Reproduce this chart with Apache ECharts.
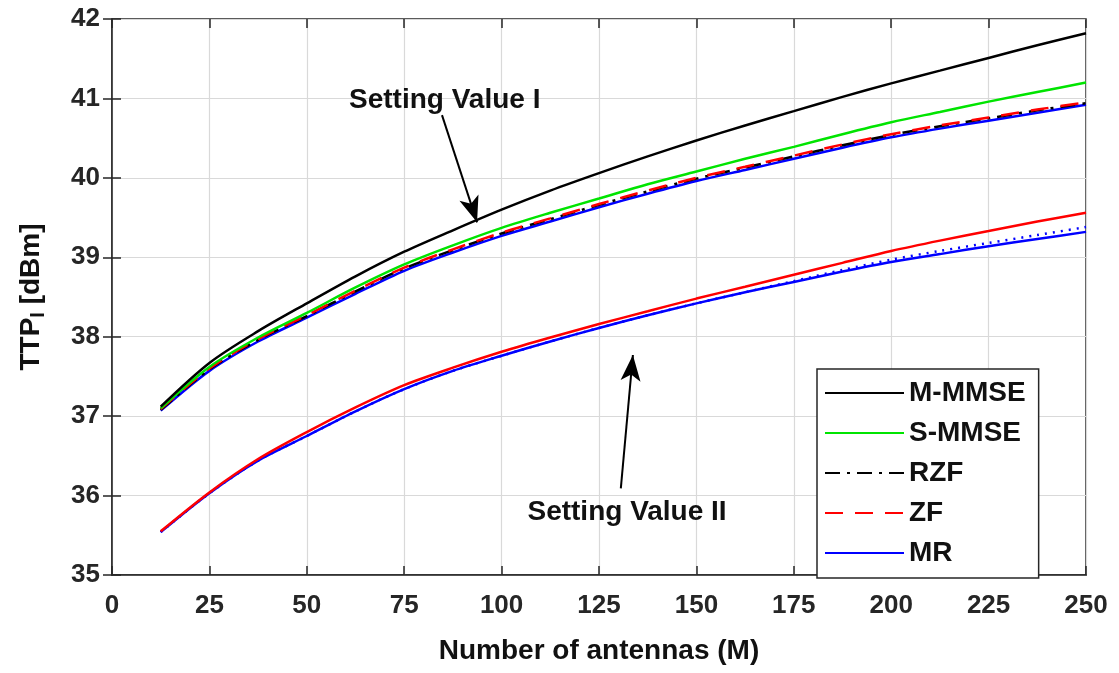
<!DOCTYPE html>
<html>
<head>
<meta charset="utf-8">
<script src="https://cdn.jsdelivr.net/npm/echarts@6/dist/echarts.min.js"></script>
<style>
  html, body { margin: 0; padding: 0; background: #fff; }
  #main { width: 1119px; height: 673px; }
</style>
</head>
<body>
<div id="main"></div>
<script>
// number of antennas M
const antennas = [12.5, 25, 37.5, 50, 62.5, 75, 87.5, 100, 112.5, 125, 137.5, 150, 162.5, 175, 187.5, 200, 212.5, 225, 237.5, 250];

// Setting Value I
const mmmseI = [37.12, 37.67, 38.07, 38.42, 38.76, 39.07, 39.34, 39.60, 39.84, 40.06, 40.27, 40.47, 40.66, 40.84, 41.02, 41.19, 41.35, 41.51, 41.67, 41.82];
const smmseI = [37.10, 37.62, 37.99, 38.30, 38.62, 38.91, 39.15, 39.37, 39.56, 39.74, 39.92, 40.08, 40.24, 40.39, 40.55, 40.70, 40.83, 40.96, 41.08, 41.20];
const rzfI   = [37.08, 37.59, 37.96, 38.26, 38.57, 38.86, 39.09, 39.30, 39.48, 39.66, 39.83, 39.99, 40.13, 40.27, 40.41, 40.54, 40.65, 40.75, 40.85, 40.94];
const zfI    = [37.09, 37.60, 37.97, 38.27, 38.58, 38.87, 39.10, 39.31, 39.49, 39.67, 39.84, 40.00, 40.14, 40.28, 40.42, 40.55, 40.66, 40.76, 40.86, 40.95];
const mrI    = [37.07, 37.57, 37.94, 38.24, 38.54, 38.83, 39.06, 39.27, 39.45, 39.63, 39.80, 39.96, 40.10, 40.24, 40.38, 40.51, 40.62, 40.72, 40.82, 40.92];

// Setting Value II
const zfII     = [35.55, 36.04, 36.46, 36.80, 37.11, 37.39, 37.61, 37.81, 37.99, 38.16, 38.32, 38.48, 38.63, 38.78, 38.93, 39.08, 39.21, 39.33, 39.45, 39.56];
const rzfII    = [35.54, 36.03, 36.44, 36.75, 37.06, 37.34, 37.57, 37.76, 37.94, 38.11, 38.27, 38.42, 38.56, 38.70, 38.84, 38.97, 39.08, 39.18, 39.28, 39.38];
const mrII     = [35.54, 36.03, 36.44, 36.75, 37.06, 37.34, 37.57, 37.76, 37.94, 38.11, 38.27, 38.42, 38.56, 38.69, 38.82, 38.94, 39.04, 39.14, 39.23, 39.32];

const legendNames = ["M-MMSE", "S-MMSE", "RZF", "ZF", "MR"];

const FONT = "'Liberation Sans', Arial, sans-serif";
const AXIS_COLOR = "#262626";

const pairs = (ys) => antennas.map((m, i) => [m, ys[i]]);

const lineSeries = (name, ys, color, type, z) => ({
  name: name,
  type: "line",
  data: pairs(ys),
  symbol: "none",
  smooth: 0.3,
  z: z,
  lineStyle: { color: color, width: 2.5, type: type },
  itemStyle: { color: color },
  emphasis: { disabled: true }
});

const textStyle = { fontFamily: FONT, fontWeight: "bold", fontSize: 28, color: "#111" };

const myChart = echarts.init(document.getElementById("main"));

// arrows + captions, placed in data coordinates
const annotations = {
  type: "line",
  data: [],
  silent: true,
  z: 20,
  markLine: {
    silent: true,
    symbol: ["none", "arrow"],
    symbolSize: [15, 26],
    label: { show: false },
    lineStyle: { color: "#000", width: 2, type: "solid" },
    data: [
      [{ coord: [84.7, 40.79] }, { coord: [93.7, 39.44] }],
      [{ coord: [130.6, 36.09] }, { coord: [133.7, 37.77] }]
    ]
  },
  markPoint: {
    silent: true,
    symbol: "circle",
    symbolSize: 1,
    itemStyle: { color: "rgba(0,0,0,0)" },
    label: Object.assign({ show: true, position: "inside" }, textStyle),
    data: [
      { coord: [85.4, 40.98], label: { formatter: "Setting Value I" } },
      { coord: [132.2, 35.79], label: { formatter: "Setting Value II" } }
    ]
  }
};

myChart.setOption({
  animation: false,
  backgroundColor: "#fff",
  textStyle: { fontFamily: FONT },
  grid: {
    left: 112, right: 33, top: 19, bottom: 98,
    show: true, borderColor: AXIS_COLOR, borderWidth: 1.5, backgroundColor: "#fff"
  },
  legend: {
    data: legendNames,
    orient: "vertical",
    left: 817,
    top: 369,
    padding: [10, 13, 11, 7],
    itemGap: 12,
    itemWidth: 79,
    itemHeight: 14,
    itemStyle: { opacity: 0, borderWidth: 0 },
    backgroundColor: "#fff",
    borderColor: AXIS_COLOR,
    borderWidth: 1.5,
    selectedMode: false,
    textStyle: { fontFamily: FONT, fontWeight: "bold", fontSize: 28, color: "#111", lineHeight: 28 }
  },
  xAxis: [
    {
      type: "value",
      min: 0, max: 250, interval: 25,
      name: "Number of antennas (M)",
      nameLocation: "middle",
      nameGap: 62,
      nameTextStyle: textStyle,
      axisLine: { show: true, lineStyle: { color: AXIS_COLOR, width: 1.5 } },
      axisTick: { show: true, inside: true, length: 9, lineStyle: { color: AXIS_COLOR, width: 1.5 } },
      axisLabel: { color: AXIS_COLOR, fontSize: 26, fontWeight: "bold", fontFamily: FONT, margin: 18 },
      splitLine: { show: true, lineStyle: { color: "#d9d9d9", width: 1.2 } }
    },
    {
      type: "value", position: "top",
      min: 0, max: 250, interval: 25,
      axisLine: { show: false },
      axisTick: { show: true, inside: true, length: 9, lineStyle: { color: AXIS_COLOR, width: 1.5 } },
      axisLabel: { show: false },
      splitLine: { show: false }
    }
  ],
  yAxis: [
    {
      type: "value",
      min: 35, max: 42, interval: 1,
      name: "{a|TTP}{s|I}{a| [dBm]}",
      nameLocation: "middle",
      nameGap: 64,
      nameRotate: 90,
      nameTextStyle: {
        rich: {
          a: textStyle,
          s: { fontFamily: FONT, fontWeight: "bold", fontSize: 20, color: "#111", padding: [14, 0, 0, 0] }
        }
      },
      axisLine: { show: true, lineStyle: { color: AXIS_COLOR, width: 1.5 } },
      axisTick: { show: true, inside: true, length: 9, lineStyle: { color: AXIS_COLOR, width: 1.5 } },
      axisLabel: { color: AXIS_COLOR, fontSize: 26, fontWeight: "bold", fontFamily: FONT, margin: 12 },
      splitLine: { show: true, lineStyle: { color: "#d9d9d9", width: 1.2 } }
    },
    {
      type: "value", position: "right",
      min: 35, max: 42, interval: 1,
      axisLine: { show: false },
      axisTick: { show: true, inside: true, length: 9, lineStyle: { color: AXIS_COLOR, width: 1.5 } },
      axisLabel: { show: false },
      splitLine: { show: false }
    }
  ],
  series: [
    // Setting Value II
    lineSeries("MR II", mrII, "#0000ff", "solid", 2),
    lineSeries("RZF II", rzfII, "#0000ff", [2, 6], 2),
    lineSeries("ZF II", zfII, "#ff0000", "solid", 3),
    // Setting Value I
    lineSeries("MR", mrI, "#0000ff", "solid", 4),
    lineSeries("RZF", rzfI, "#000000", [15, 7, 3, 7], 5),
    lineSeries("ZF", zfI, "#ff0000", [18, 12], 6),
    lineSeries("S-MMSE", smmseI, "#00e400", "solid", 7),
    lineSeries("M-MMSE", mmmseI, "#000000", "solid", 8),
    annotations
  ]
});
</script>
</body>
</html>
